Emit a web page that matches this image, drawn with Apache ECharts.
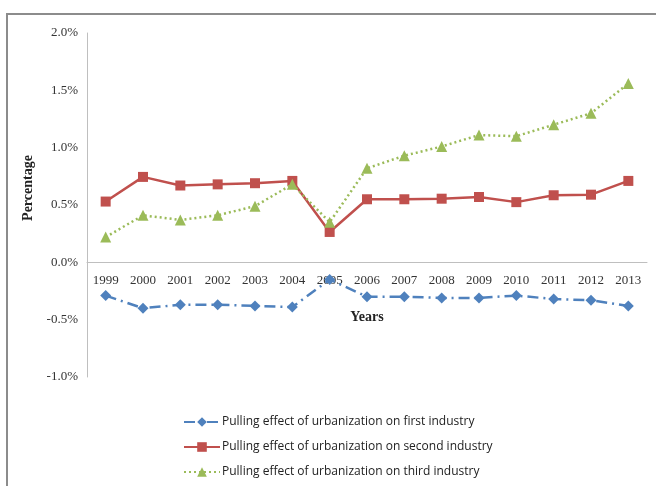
<!DOCTYPE html>
<html>
<head>
<meta charset="utf-8">
<script src="https://cdn.jsdelivr.net/npm/echarts@6/dist/echarts.min.js"></script>
<style>
  html, body { margin: 0; padding: 0; background: #fff; }
  #chart { width: 656px; height: 486px; }
</style>
</head>
<body>
<div id="chart"></div>
<script>
// Years on the horizontal axis
const years = ['1999','2000','2001','2002','2003','2004','2005','2006','2007','2008','2009','2010','2011','2012','2013'];

// Pulling effect values, in percent
const firstIndustry  = [-0.29, -0.40, -0.37, -0.37, -0.38, -0.39, -0.15, -0.30, -0.30, -0.31, -0.31, -0.29, -0.32, -0.33, -0.38];
const secondIndustry = [0.53, 0.745, 0.67, 0.68, 0.69, 0.71, 0.265, 0.55, 0.55, 0.555, 0.57, 0.525, 0.585, 0.59, 0.71];
const thirdIndustry  = [0.22, 0.41, 0.37, 0.41, 0.49, 0.68, 0.35, 0.82, 0.93, 1.01, 1.11, 1.10, 1.20, 1.30, 1.56];

const seriesNames = [
  'Pulling effect of urbanization on first industry',
  'Pulling effect of urbanization on second industry',
  'Pulling effect of urbanization on third industry'
];

const yMin = -1.0, yMax = 2.0;
const gridTop = 33, gridBottom = 109, chartH = 486;
// pixel distance from the bottom of the plot up to the zero line
const zeroOffset = (chartH - gridTop - gridBottom) * (0 - yMin) / (yMax - yMin);

const serif = '"Liberation Serif", "Times New Roman", serif';

const chart = echarts.init(document.getElementById('chart'), null, { renderer: 'canvas' });

chart.setOption({
  animation: false,
  backgroundColor: '#fff',
  grid: { left: 87, right: 9, top: gridTop, bottom: gridBottom, containLabel: false },
  graphic: [
    {
      type: 'rect',
      shape: { x: 7, y: 14, width: 700, height: 520 },
      style: { fill: 'none', stroke: '#8c8c8c', lineWidth: 2 },
      z: -1
    },
    {
      type: 'text',
      x: 28, y: 188,
      rotation: Math.PI / 2,
      style: {
        text: 'Percentage',
        font: 'bold 14px ' + serif,
        fill: '#222',
        align: 'center',
        verticalAlign: 'middle'
      }
    }
  ],
  legend: {
    orient: 'vertical',
    left: 178,
    top: 411,
    itemWidth: 36,
    itemHeight: 12,
    itemGap: 13,
    textStyle: { fontFamily: '"Open Sans", "Liberation Sans", sans-serif', fontSize: 12, color: '#222', padding: [0, 0, 0, -3] },
    data: seriesNames
  },
  xAxis: {
    type: 'category',
    data: years,
    boundaryGap: true,
    offset: -zeroOffset,
    name: 'Years',
    nameLocation: 'middle',
    nameGap: 48,
    nameTextStyle: { fontFamily: serif, fontWeight: 'bold', fontSize: 14, color: '#222' },
    axisLine: { onZero: false, lineStyle: { color: '#bfbfbf', width: 1 } },
    axisTick: { show: false },
    axisLabel: { fontFamily: serif, fontSize: 13, color: '#333', margin: 12, interval: 0 },
    splitLine: { show: false }
  },
  yAxis: {
    type: 'value',
    min: yMin,
    max: yMax,
    interval: 0.5,
    axisLine: { show: true, lineStyle: { color: '#bfbfbf', width: 1 } },
    axisTick: { show: false },
    splitLine: { show: false },
    axisLabel: {
      fontFamily: serif, fontSize: 13, color: '#333', margin: 9,
      formatter: v => v.toFixed(1) + '%'
    }
  },
  series: [
    {
      name: seriesNames[0],
      type: 'line',
      data: firstIndustry,
      symbol: 'diamond',
      symbolSize: 11,
      itemStyle: { color: '#4f81bd' },
      lineStyle: { color: '#4f81bd', width: 2.5, type: [11, 5, 2, 5] },
      z: 3
    },
    {
      name: seriesNames[1],
      type: 'line',
      data: secondIndustry,
      symbol: 'rect',
      symbolSize: 10,
      itemStyle: { color: '#c0504d' },
      lineStyle: { color: '#c0504d', width: 2.5 },
      z: 2
    },
    {
      name: seriesNames[2],
      type: 'line',
      data: thirdIndustry,
      symbol: 'triangle',
      symbolSize: 11,
      itemStyle: { color: '#9bbb59' },
      lineStyle: { color: '#9bbb59', width: 2.5, type: [2, 3] },
      z: 4
    }
  ]
});
</script>
</body>
</html>
